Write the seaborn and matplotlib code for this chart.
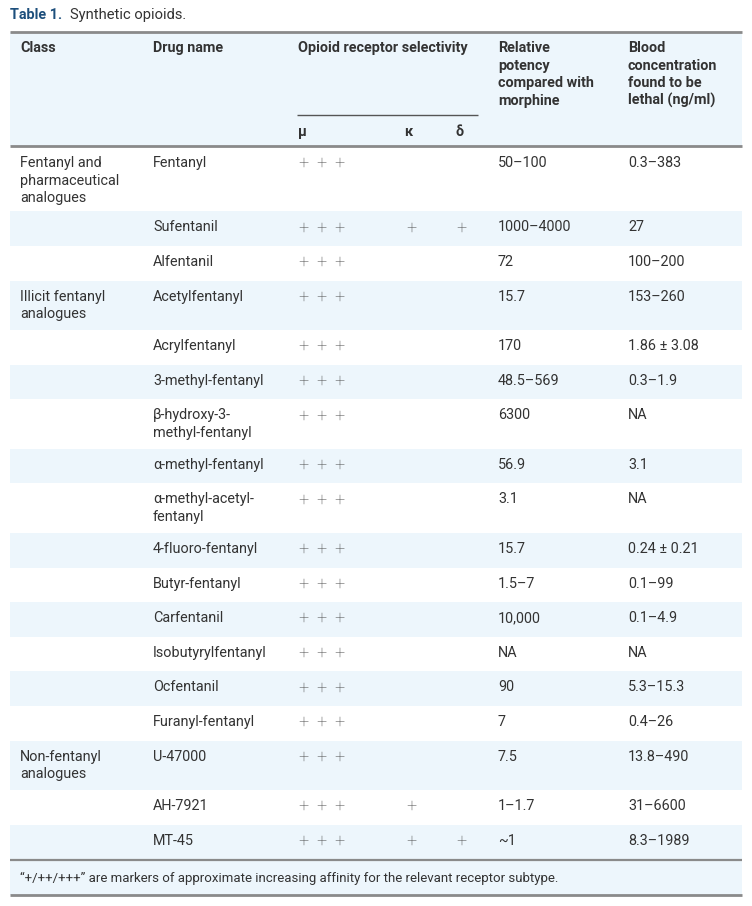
import matplotlib
matplotlib.use("Agg")
import matplotlib.pyplot as plt
import seaborn as sns

# ---------------- data ----------------
title_bold = "Table 1."
title_rest = "Synthetic opioids."

header_class = "Class"
header_drug = "Drug name"
header_sel = "Opioid receptor selectivity"
header_sub = ["μ", "κ", "δ"]
header_potency = "Relative\npotency\ncompared with\nmorphine"
header_lethal = "Blood\nconcentration\nfound to be\nlethal (ng/ml)"

classes = ["Fentanyl and\npharmaceutical\nanalogues", "", "",
           "Illicit fentanyl\nanalogues", "", "", "", "", "", "", "", "", "", "", "",
           "Non-fentanyl\nanalogues", "", ""]
drugs = ["Fentanyl", "Sufentanil", "Alfentanil", "Acetylfentanyl", "Acrylfentanyl",
         "3-methyl-fentanyl", "β-hydroxy-3-\nmethyl-fentanyl", "α-methyl-fentanyl",
         "α-methyl-acetyl-\nfentanyl", "4-fluoro-fentanyl", "Butyr-fentanyl",
         "Carfentanil", "Isobutyrylfentanyl", "Ocfentanil", "Furanyl-fentanyl",
         "U-47000", "AH-7921", "MT-45"]
mu = ["+++"] * 18
kappa = ["", "+", "", "", "", "", "", "", "", "", "", "", "", "", "", "", "+", "+"]
delta = ["", "+", "", "", "", "", "", "", "", "", "", "", "", "", "", "", "", "+"]
potency = ["50–100", "1000–4000", "72", "15.7", "170", "48.5–569", "6300", "56.9",
           "3.1", "15.7", "1.5–7", "10,000", "NA", "90", "7", "7.5", "1–1.7", "~1"]
lethal = ["0.3–383", "27", "100–200", "153–260", "1.86 ± 3.08", "0.3–1.9", "NA",
          "3.1", "NA", "0.24 ± 0.21", "0.1–99", "0.1–4.9", "NA", "5.3–15.3",
          "0.4–26", "13.8–490", "31–6600", "8.3–1989"]
footnote = "\u201c+/++/+++\u201d are markers of approximate increasing affinity for the relevant receptor subtype."

# ---------------- style ----------------
sns.set_theme(style="white")
plt.rcParams["font.family"] = ["Roboto", "DejaVu Sans"]

W, H = 752, 906
fig = plt.figure(figsize=(W / 100, H / 100), dpi=100)
ax = fig.add_axes([0, 0, 1, 1])
ax.set_xlim(0, W)
ax.set_ylim(H, 0)
ax.axis("off")

BG = "#edf6fc"
TXT = "#333333"
LINE = "#8a8a8a"
BLUE = "#1d4f7c"
FS = 10.4
PITCH = 17.6
BASE = 20

LEFT, RIGHT = 10, 742
X_CLASS, X_DRUG, X_MU, X_POT, X_LET = 20, 153, 298, 498, 628
X_K, X_D = 411, 461
PLUS_STEP = 18


def lines_text(x, top, s, bold=False, size=FS, color=TXT, ha="left"):
    for i, ln in enumerate(s.split("\n")):
        ax.text(x, top + BASE + i * PITCH, ln, fontsize=size, color=color,
                ha=ha, va="baseline", fontweight="bold" if bold else "normal")


def hline(y, x0=LEFT, x1=RIGHT, lw=1.6, color=LINE):
    ax.plot([x0, x1], [y, y], color=color, lw=lw, solid_capstyle="butt")


# title
t1 = ax.text(LEFT, 19, title_bold, fontsize=10.4, fontweight="bold", color=BLUE,
             va="baseline", ha="left")
fig.canvas.draw()
bb = t1.get_window_extent()
x_after = bb.x1 * 1.0 + 8
ax.text(x_after, 19, title_rest, fontsize=10.6, color=TXT, va="baseline", ha="left")

# header
HTOP, HBOT = 32, 146
ax.axhspan(HTOP, HBOT, xmin=LEFT / W, xmax=RIGHT / W, color=BG, lw=0)
lines_text(X_CLASS, HTOP, header_class, bold=True)
lines_text(X_DRUG, HTOP, header_drug, bold=True)
lines_text(X_MU, HTOP, header_sel, bold=True)
lines_text(X_POT, HTOP, header_potency, bold=True)
lines_text(X_LET, HTOP, header_lethal, bold=True)
hline(115, 297, 478, lw=1.0, color="#555555")
for xs, s in zip([X_MU, X_K - 7, X_D - 6], header_sub):
    ax.text(xs, 136, s, fontsize=FS, fontweight="bold", color=TXT, ha="left", va="baseline")
hline(HTOP, lw=2.0)
hline(HBOT, lw=2.0)


def draw_plus(x0, s, y):
    for j, _ in enumerate(s):
        ax.text(x0 + j * PLUS_STEP, y, "+", fontsize=13, color="#444444",
                ha="center", va="baseline", fontweight="light")


# body
y = HBOT + 1
for i in range(len(drugs)):
    n = max(classes[i].count("\n"), drugs[i].count("\n")) + 1
    h = 19.7 + 14.9 * n
    if i % 2 == 1:
        ax.axhspan(y, y + h, xmin=LEFT / W, xmax=RIGHT / W, color=BG, lw=0)
    lines_text(X_CLASS, y, classes[i])
    lines_text(X_DRUG, y, drugs[i])
    draw_plus(X_MU + 5, mu[i], y + BASE + 2)
    draw_plus(X_K, kappa[i], y + BASE + 2)
    draw_plus(X_D, delta[i], y + BASE + 2)
    lines_text(X_POT, y, potency[i])
    lines_text(X_LET, y, lethal[i])
    y += h

body_bottom = 860
# footnote
ax.axhspan(body_bottom, 895, xmin=LEFT / W, xmax=RIGHT / W, color=BG, lw=0)
hline(body_bottom, lw=1.6)
hline(895, lw=2.0)
ax.text(X_CLASS, 882, footnote, fontsize=9.5, color=TXT, ha="left", va="baseline")

fig.savefig("out.png", dpi=100, facecolor="white")
